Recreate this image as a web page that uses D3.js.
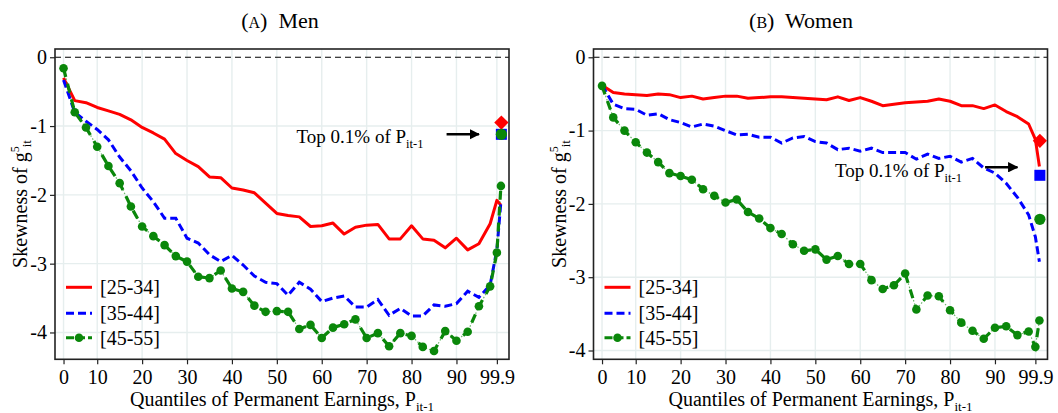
<!DOCTYPE html>
<meta charset="utf-8">
<script src="https://d3js.org/d3.v7.min.js"></script>
<style>
  body { margin: 0; background: #fff; }
  text { font-family: "Liberation Serif", "Times New Roman", serif; fill: #000; }
</style>
<div id="chart"></div>
<script>
// quantile positions (last point = P99.9) and axis ticks
var pct = [2.5, 5, 7.5, 10, 12.5, 15, 17.5, 20, 22.5, 25, 27.5, 30, 32.5, 35, 37.5, 40,
           42.5, 45, 47.5, 50, 52.5, 55, 57.5, 60, 62.5, 65, 67.5, 70, 72.5, 75, 77.5, 80,
           82.5, 85, 87.5, 90, 92.5, 95, 97.5, 99, 99.9];
var topPos = 100;
var xTickPos = [2.5, 10, 20, 30, 40, 50, 60, 70, 80, 90, 99];
var xTickLab = ["0", "10", "20", "30", "40", "50", "60", "70", "80", "90", "99.9"];
var yTicks = [0, -1, -2, -3, -4];
var ageGroups = ["[25-34]", "[35-44]", "[45-55]"];

// Men
var men2534 = [-0.30, -0.63, -0.66, -0.73, -0.78, -0.83, -0.91, -1.02, -1.10, -1.19, -1.40, -1.50, -1.59, -1.74, -1.75, -1.90,
               -1.93, -1.97, -2.12, -2.27, -2.30, -2.32, -2.46, -2.45, -2.41, -2.57, -2.47, -2.44, -2.43, -2.64, -2.64, -2.45,
               -2.64, -2.66, -2.77, -2.63, -2.80, -2.71, -2.42, -2.08, -2.15];
var men3544 = [-0.33, -0.80, -0.93, -1.05, -1.20, -1.45, -1.65, -1.90, -2.10, -2.34, -2.34, -2.63, -2.70, -2.87, -2.97, -2.88,
               -3.02, -3.18, -3.27, -3.29, -3.46, -3.27, -3.37, -3.55, -3.50, -3.47, -3.63, -3.63, -3.52, -3.75, -3.65, -3.76,
               -3.76, -3.60, -3.62, -3.58, -3.40, -3.49, -3.31, -2.80, -2.10];
var men4555 = [-0.16, -0.80, -1.02, -1.30, -1.58, -1.83, -2.17, -2.46, -2.60, -2.73, -2.89, -2.97, -3.19, -3.21, -3.10, -3.36,
               -3.41, -3.61, -3.70, -3.69, -3.70, -3.95, -3.89, -4.08, -3.93, -3.88, -3.81, -4.08, -4.01, -4.20, -4.01, -4.05,
               -4.21, -4.27, -3.98, -4.12, -3.99, -3.62, -3.33, -2.84, -1.87];
var menTop = [-0.95, -1.12, -1.12];

// Women
var women2534 = [-0.38, -0.48, -0.50, -0.51, -0.52, -0.50, -0.51, -0.55, -0.53, -0.57, -0.55, -0.53, -0.53, -0.56, -0.55, -0.54,
                 -0.54, -0.55, -0.56, -0.57, -0.58, -0.54, -0.59, -0.55, -0.60, -0.66, -0.64, -0.62, -0.61, -0.60, -0.57, -0.60,
                 -0.66, -0.66, -0.70, -0.65, -0.74, -0.81, -0.91, -1.12, -1.49];
var women3544 = [-0.38, -0.64, -0.70, -0.71, -0.79, -0.77, -0.85, -0.89, -0.95, -0.91, -0.94, -1.00, -1.06, -1.05, -1.09, -1.09,
                 -1.17, -1.10, -1.08, -1.15, -1.17, -1.26, -1.24, -1.28, -1.24, -1.30, -1.30, -1.30, -1.39, -1.32, -1.38, -1.35,
                 -1.43, -1.38, -1.51, -1.58, -1.72, -1.91, -2.15, -2.45, -2.79];
var women4555 = [-0.39, -0.82, -1.00, -1.16, -1.30, -1.43, -1.58, -1.62, -1.67, -1.80, -1.89, -1.98, -1.94, -2.11, -2.20, -2.33,
                 -2.41, -2.55, -2.64, -2.62, -2.76, -2.71, -2.82, -2.82, -3.04, -3.16, -3.11, -2.95, -3.44, -3.25, -3.26, -3.45,
                 -3.62, -3.73, -3.84, -3.69, -3.67, -3.79, -3.74, -3.95, -3.59];
var womenTop = [-1.14, -1.61, -2.21];

var red = "#ff0000", blue = "#0000ff", green = "#0a870a", gridColor = "#e6eeee";

var svg = d3.select("#chart")
  .append("svg")
    .attr("width", 1058)
    .attr("height", 413)
    .attr("font-family", "Liberation Serif, serif");

svg.append("defs").append("marker")
    .attr("id", "arrow")
    .attr("viewBox", "0 0 10 10")
    .attr("refX", 9).attr("refY", 5)
    .attr("markerWidth", 4).attr("markerHeight", 4)
    .attr("orient", "auto")
  .append("path")
    .attr("d", "M0,0 L10,5 L0,10 z")
    .attr("fill", "#000");

var panels = [
  {dx: 0, letter: "A", name: "Men", titleX: 280, yDomain: [-4.39, 0.12],
   series: [men2534, men3544, men4555], top: menTop,
   note: {x: 54.4, y: -1.24, ax0: 87.8, ax1: 95.0, ay: -1.12}},
  {dx: 538.5, letter: "B", name: "Women", titleX: 262.5, yDomain: [-4.12, 0.113],
   series: [women2534, women3544, women4555], top: womenTop,
   note: {x: 54.4, y: -1.63, ax0: 87.8, ax1: 95.0, ay: -1.50}}
];

panels.forEach(drawPanel);

function drawPanel(p) {
  var g = svg.append("g").attr("transform", "translate(" + p.dx + ",0)");
  var left = 55, right = 509, top = 49, bottom = 359.3;

  var x = d3.scaleLinear().domain([0.6, 101.7]).range([left, right]);
  var y = d3.scaleLinear().domain(p.yDomain).range([bottom, top]);

  // title
  var t = g.append("text")
    .attr("x", p.titleX).attr("y", 28)
    .attr("text-anchor", "middle")
    .style("font-size", "22px");
  t.append("tspan").text("(");
  t.append("tspan").style("font-size", "16px").text(p.letter);
  t.append("tspan").text(")\u00a0 " + p.name);

  // grid
  g.append("g").selectAll("line")
    .data(xTickPos).enter().append("line")
      .attr("x1", function(d) { return x(d); })
      .attr("x2", function(d) { return x(d); })
      .attr("y1", top).attr("y2", bottom)
      .attr("stroke", gridColor).attr("stroke-width", 1.4);
  g.append("g").selectAll("line")
    .data(yTicks.slice(1)).enter().append("line")
      .attr("x1", left).attr("x2", right)
      .attr("y1", function(d) { return y(d); })
      .attr("y2", function(d) { return y(d); })
      .attr("stroke", gridColor).attr("stroke-width", 1.4);

  // zero line
  g.append("line")
    .attr("x1", left).attr("x2", right)
    .attr("y1", y(0)).attr("y2", y(0))
    .attr("stroke", "#000").attr("stroke-width", 1.1)
    .attr("stroke-dasharray", "6,4");

  // axes
  var xAxis = g.append("g")
    .attr("transform", "translate(0," + bottom + ")")
    .call(d3.axisBottom(x).tickValues(xTickPos)
      .tickFormat(function(d, i) { return xTickLab[i]; })
      .tickSize(5).tickPadding(6));
  var yAxis = g.append("g")
    .attr("transform", "translate(" + left + ",0)")
    .call(d3.axisLeft(y).tickValues(yTicks)
      .tickFormat(function(d) { return String(d); })
      .tickSize(5).tickPadding(3));
  [xAxis, yAxis].forEach(function(a) {
    a.attr("font-family", null);
    a.select(".domain").remove();
    a.selectAll(".tick line").attr("stroke", "#222").attr("stroke-width", 1.2);
    a.selectAll(".tick text")
      .style("font-family", "Liberation Serif, serif")
      .style("font-size", "20px").attr("fill", "#000");
  });

  // frame
  g.append("rect")
    .attr("x", left).attr("y", top)
    .attr("width", right - left).attr("height", bottom - top)
    .attr("fill", "none").attr("stroke", "#222").attr("stroke-width", 1.6);

  // axis titles
  var xt = g.append("text")
    .attr("x", (left + right) / 2).attr("y", 406)
    .attr("text-anchor", "middle")
    .style("font-size", "20px");
  xt.append("tspan").text("Quantiles of Permanent Earnings, P");
  xt.append("tspan").attr("dy", 5).style("font-size", "13px").text("it-1");

  var yt = g.append("text")
    .attr("transform", "translate(27,204) rotate(-90)")
    .attr("text-anchor", "middle")
    .style("font-size", "20px");
  yt.append("tspan").text("Skewness of g");
  yt.append("tspan").attr("dy", -8).style("font-size", "12px").text("5");
  yt.append("tspan").attr("dy", 12).attr("dx", -1).style("font-size", "13px").text("it");

  // lines
  var line = d3.line()
    .x(function(d, i) { return x(pct[i]); })
    .y(function(d) { return y(d); });

  g.append("path").datum(p.series[0])
    .attr("d", line).attr("fill", "none")
    .attr("stroke", red).attr("stroke-width", 3).attr("stroke-linejoin", "round");

  g.append("path").datum(p.series[1])
    .attr("d", line).attr("fill", "none")
    .attr("stroke", blue).attr("stroke-width", 3)
    .attr("stroke-dasharray", "8,4");

  g.append("path").datum(p.series[2])
    .attr("d", line).attr("fill", "none")
    .attr("stroke", green).attr("stroke-width", 1.2).attr("stroke-opacity", 0.6)
    .attr("stroke-dasharray", "1.5,2");
  g.append("path").datum(p.series[2])
    .attr("d", line).attr("fill", "none")
    .attr("stroke", green).attr("stroke-width", 3.2)
    .attr("stroke-dasharray", "9,7");
  g.append("g").selectAll("circle")
    .data(p.series[2]).enter().append("circle")
      .attr("cx", function(d, i) { return x(pct[i]); })
      .attr("cy", function(d) { return y(d); })
      .attr("r", 4.3)
      .attr("fill", green);

  // top 0.1% markers
  var tx = x(topPos);
  g.append("rect")
    .attr("x", tx - 5.5).attr("y", y(p.top[1]) - 5.5)
    .attr("width", 11).attr("height", 11).attr("fill", blue);
  g.append("path")
    .attr("d", d3.symbol().type(d3.symbolDiamond2).size(130))
    .attr("transform", "translate(" + tx + "," + y(p.top[0]) + ")")
    .attr("fill", red);
  g.append("circle")
    .attr("cx", tx).attr("cy", y(p.top[2])).attr("r", 5.6)
    .attr("fill", green);

  // annotation
  var nt = g.append("text")
    .attr("x", x(p.note.x)).attr("y", y(p.note.y))
    .style("font-size", "19px");
  nt.append("tspan").text("Top 0.1% of P");
  nt.append("tspan").attr("dy", 5).style("font-size", "12.5px").text("it-1");
  g.append("line")
    .attr("x1", x(p.note.ax0)).attr("x2", x(p.note.ax1))
    .attr("y1", y(p.note.ay)).attr("y2", y(p.note.ay))
    .attr("stroke", "#000").attr("stroke-width", 2.6)
    .attr("marker-end", "url(#arrow)");

  // legend
  var legY = [287.3, 313.3, 337.7];
  var leg = g.append("g");
  leg.append("line")
    .attr("x1", 66).attr("x2", 92).attr("y1", legY[0]).attr("y2", legY[0])
    .attr("stroke", red).attr("stroke-width", 3);
  leg.append("line")
    .attr("x1", 66).attr("x2", 92).attr("y1", legY[1]).attr("y2", legY[1])
    .attr("stroke", blue).attr("stroke-width", 3).attr("stroke-dasharray", "8,4");
  leg.append("line")
    .attr("x1", 66).attr("x2", 92).attr("y1", legY[2]).attr("y2", legY[2])
    .attr("stroke", green).attr("stroke-width", 3).attr("stroke-dasharray", "8,3");
  leg.append("circle")
    .attr("cx", 79).attr("cy", legY[2]).attr("r", 4.3).attr("fill", green);
  leg.selectAll("text")
    .data(ageGroups).enter().append("text")
      .attr("x", 100).attr("y", function(d, i) { return legY[i]; })
      .attr("dy", "0.35em")
      .style("font-size", "20px")
      .text(function(d) { return d; });
}
</script>
